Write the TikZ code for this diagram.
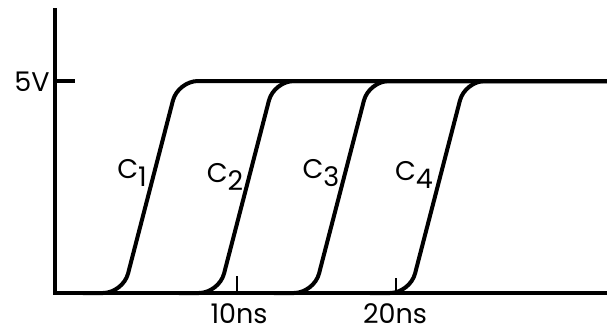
\documentclass[tikz,border=0pt]{standalone}
\usepackage{fontspec}
\setmainfont{Poppins}
\newcommand{\csub}[1]{C\raisebox{-0.5ex}{#1}}
\begin{document}
\begin{tikzpicture}[x=0.5pt, y=-0.5pt,
		trace/.style={line width = 2pt, line cap=round, rounded corners=10pt},
		axisline/.style={line width = 2pt},
		tickmark/.style={line width = 1pt},
		lbl/.style={font=\fontsize{13.5}{15}\selectfont, inner sep=0pt}]
		\useasboundingbox (0,0) rectangle (607,334);
		% axes
		\coordinate (top) at (55,8);
		\coordinate (origin) at (55,293);
		\coordinate (xend) at (607,293);
		\coordinate (hi) at (55,81);
		\coordinate (hitick) at (75,81);
		\draw [axisline] (top) -- (origin) -- (xend);
		\draw [axisline] (hi) -- (hitick);
		% ticks on the time axis
		\coordinate (t10) at (237,293);
		\coordinate (t20) at (396,293);
		\draw [tickmark] (t10) -- ++(0,-17);
		\draw [tickmark] (t20) -- ++(0,-15);
		% the four rising edges
		\foreach \k/\xb in {1/123, 2/219, 3/314, 4/410} {
			\draw [trace] (\xb-40,293) -- (\xb,293) -- (\xb+55,81) -- (607,81);
		}
		\node [lbl] (lab5v) at (32,82) {5V};
		\node [lbl] (lab10) at (239,314) {10ns};
		\node [lbl] (lab20) at (395,314) {20ns};
		\node [lbl] (c1) at (132,173) {\csub{1}};
		\node [lbl] (c2) at (225,177) {\csub{2}};
		\node [lbl] (c3) at (321,173) {\csub{3}};
		\node [lbl] (c4) at (414,175) {\csub{4}};
	\end{tikzpicture}
\end{document}
